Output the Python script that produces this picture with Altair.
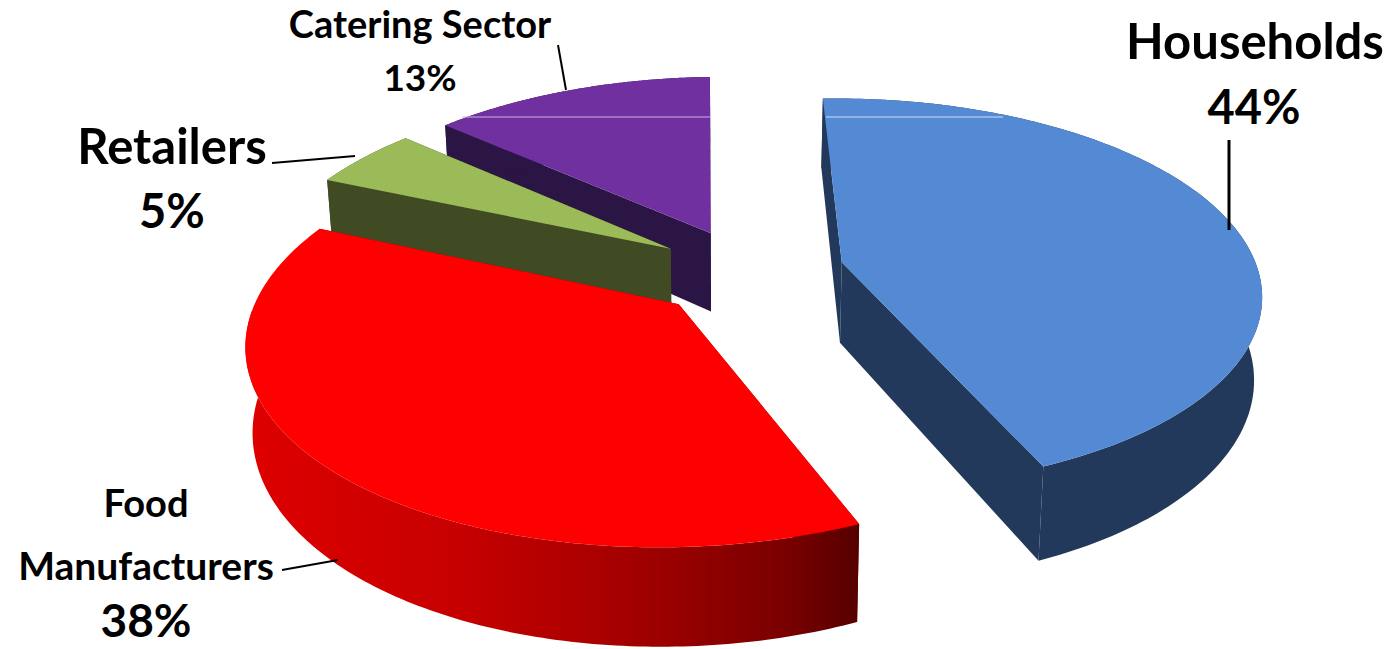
import numpy as np
import pandas as pd
import altair as alt

# Share of food waste by sector, in drawing order round the pie (clockwise)
sectors = ["Households", "Food Manufacturers", "Retailers", "Catering Sector"]
shares = [44, 38, 5, 13]
top_colors = ["#538ad3", "#fe0000", "#9bbb59", "#7030a0"]
side_colors = ["#23395b", "#8a0000", "#404b24", "#2b1545"]

# Text blocks: label lines with their anchor and size
label_text = ["Households", "44%", "Catering Sector", "13%", "Retailers", "5%",
              "Food", "Manufacturers", "38%"]
label_x = [1255, 1254, 420, 420, 172, 172, 146, 146, 146]
label_y = [44, 110, 27, 80, 149, 214, 506, 568, 623]
label_size = [49, 47, 38, 37, 49, 47, 38, 39, 46]

# Leader lines, one per sector
leader_id = ["h", "h", "c", "c", "r", "r", "f", "f"]
leader_x = [1229, 1229, 558, 566, 272, 355, 282, 338]
leader_y = [140, 230, 45, 90, 163, 156, 570, 560]
leader_width = [3, 3, 2, 2, 2, 2, 2, 2]

# Pale scan line crossing the two rear faces
streak_id = ["p", "p", "b", "b"]
streak_x = [462, 711, 826, 1003]
streak_y = [117, 117, 117, 117]
streak_color = ["#c9b3dd", "#c9b3dd", "#cfe0f5", "#cfe0f5"]

# Camera model of the tilted pie
HORIZON_Y = -933.0
VANISH_X = 735.0
CENTER_X, CENTER_Y = 749.0, 272.0
RADIUS_X = 415.0
KK = 0.16
EXPLODE = 0.23
THICKNESS = 81.0
PLUMB_X = 723.0
PLUMB_SHRINK = 0.015
FIRST_ANGLE = -0.012  # radians clockwise from straight back
ROLL = -4.0


def project(px, py, lower=False):
    """Map pie-plane coordinates (right, towards viewer) to chart coordinates."""
    w = 1 - KK * py
    x = VANISH_X + (CENTER_X - VANISH_X + RADIUS_X * px) / w
    y = HORIZON_Y + (CENTER_Y - HORIZON_Y + ROLL * px) / w
    if lower:
        x = PLUMB_X + (x - PLUMB_X) * (1 - PLUMB_SHRINK)
        y = y + THICKNESS / w
    return x, y


def poly(points):
    xs, ys = zip(*points)
    return pd.DataFrame({"x": xs, "y": ys, "seq": range(len(xs))})


x_enc = alt.X("x:Q", scale=alt.Scale(domain=[0, 1390], nice=False, zero=False), axis=None)
y_enc = alt.Y("y:Q", scale=alt.Scale(domain=[649, 0], nice=False, zero=False), axis=None)


def filled(points, fill):
    return alt.Chart(poly(points)).mark_line(fill=fill, strokeWidth=0, clip=False).encode(
        x=x_enc, y=y_enc, order="seq:Q"
    )


red_gradient = alt.LinearGradient(
    gradient="linear",
    x1=0, y1=0, x2=1, y2=0,
    stops=[
        alt.GradientStop(color="#de0000", offset=0),
        alt.GradientStop(color="#c60000", offset=0.35),
        alt.GradientStop(color="#a00000", offset=0.65),
        alt.GradientStop(color="#7a0000", offset=0.88),
        alt.GradientStop(color="#560000", offset=1),
    ],
)

layers = []
fractions = np.cumsum([0] + shares) / sum(shares)
# Rear slices are painted first so the nearer ones can overlap them
for i in [3, 2, 1, 0]:
    a0, a1 = FIRST_ANGLE + 2 * np.pi * fractions[i], FIRST_ANGLE + 2 * np.pi * fractions[i + 1]
    mid = (a0 + a1) / 2
    ox, oy = EXPLODE * np.sin(mid), -EXPLODE * np.cos(mid)
    angles = np.linspace(a0, a1, 160)
    rim = [(ox + np.sin(t), oy - np.cos(t)) for t in angles]

    top = [project(*p) for p in rim]
    low = [project(*p, lower=True) for p in rim]
    apex_top = project(ox, oy)
    apex_low = project(ox, oy, lower=True)

    # Radial walls first, then the curved wall, then the top face
    side_fill = side_colors[i]
    layers.append(filled([apex_top, top[0], low[0], apex_low], side_fill))
    layers.append(filled([apex_top, top[-1], low[-1], apex_low], side_fill))
    if sectors[i] == "Food Manufacturers":
        # Only the front part of the rim faces the viewer, so the gradient spans it alone
        front = [k for k, t in enumerate(angles) if t < np.radians(270)]
        layers.append(filled([top[k] for k in front] + [low[k] for k in reversed(front)], red_gradient))
    else:
        layers.append(filled(top + low[::-1], side_fill))
    layers.append(filled([apex_top] + top, top_colors[i]))

streaks = pd.DataFrame({"id": streak_id, "x": streak_x, "y": streak_y, "c": streak_color})
layers.append(
    alt.Chart(streaks).mark_line(strokeWidth=1).encode(
        x=x_enc, y=y_enc, detail="id:N", color=alt.Color("c:N", scale=None)
    )
)

leaders = pd.DataFrame({"id": leader_id, "x": leader_x, "y": leader_y, "w": leader_width})
layers.append(
    alt.Chart(leaders).mark_line(color="black").encode(
        x=x_enc, y=y_enc, detail="id:N", strokeWidth=alt.StrokeWidth("w:Q", scale=None)
    )
)

labels = pd.DataFrame({"text": label_text, "x": label_x, "y": label_y, "size": label_size})
layers.append(
    alt.Chart(labels).mark_text(font="Lato", fontWeight="bold", color="black", align="center", baseline="middle").encode(
        x=x_enc,
        y=y_enc,
        text="text:N",
        size=alt.Size("size:Q", scale=None),
    )
)

chart = alt.layer(*layers).properties(
    width=1390, height=649, padding=0, background="white", autosize=alt.AutoSizeParams(type="none")
).configure_view(stroke=None)

chart.save("out.html", embed_options={"renderer": "svg", "actions": False})
